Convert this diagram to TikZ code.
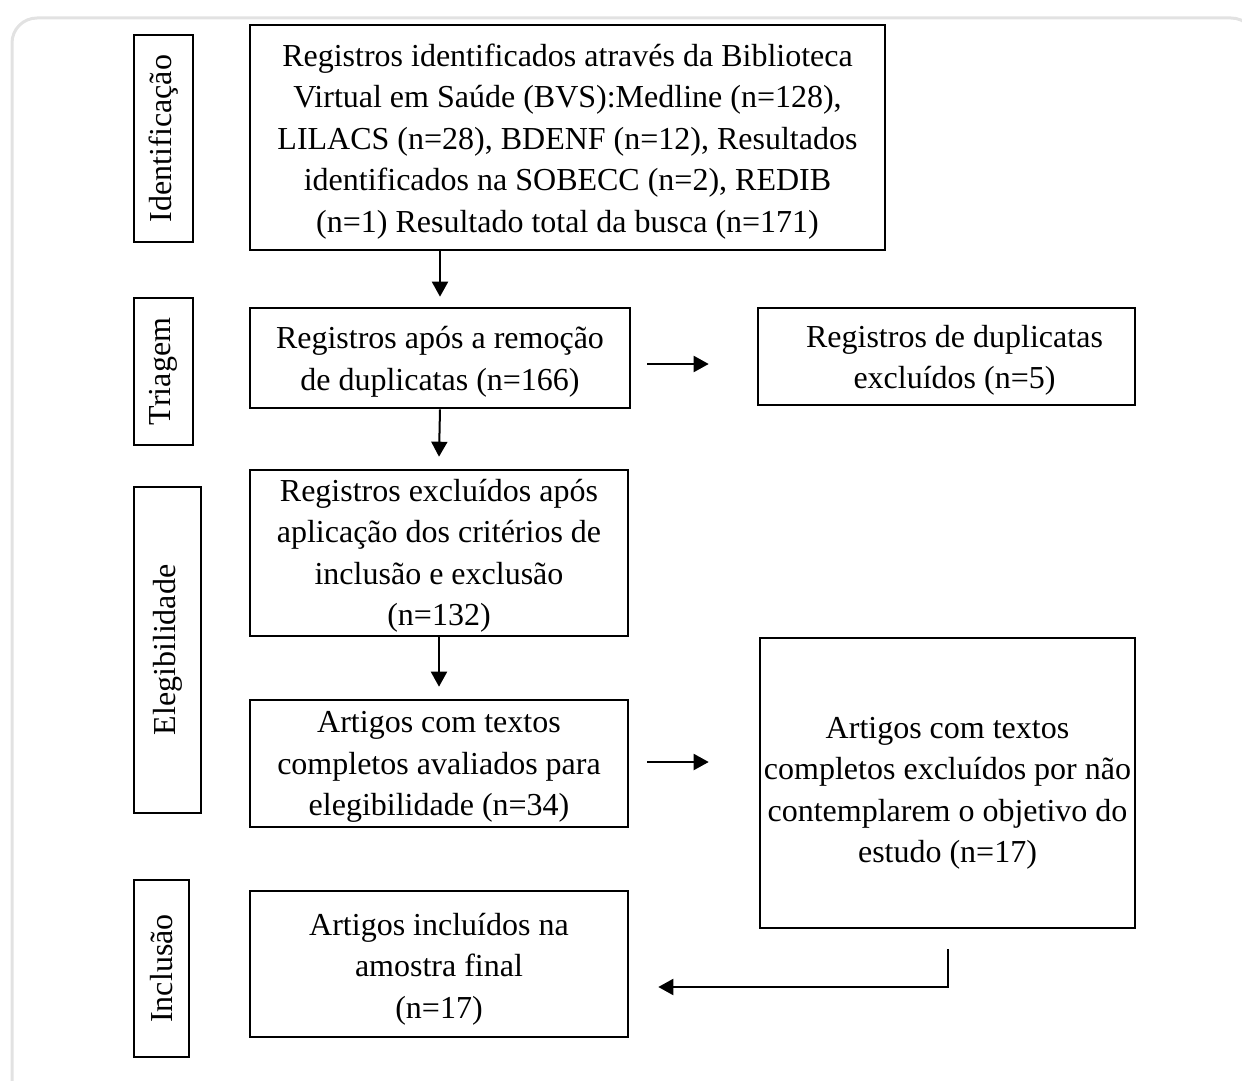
\documentclass[tikz,border=0pt]{standalone}
\usepackage{fontspec}
\setmainfont{Liberation Serif}
\usetikzlibrary{arrows.meta}
\definecolor{cardgray}{HTML}{E2E2E2}
\newcommand{\toplift}[1]{\rule{0pt}{#1}}
\begin{document}
\begin{tikzpicture}[x=0.5pt,y=-0.5pt,
  every node/.style={font=\fontsize{16}{20.75}\selectfont},
  box/.style={draw, line width=1.3pt, align=center, inner sep=0pt},
  phase/.style={draw, line width=1.3pt, rotate=90, inner sep=0pt},
  arr/.style={line width=1pt, -{Triangle[length=7.5pt,width=8pt]}}]
\useasboundingbox (0,0) rectangle (1242,1081);
\begin{scope}
\clip (0,0) rectangle (1242,1081);
\draw[cardgray, line width=1.5pt, rounded corners=12.5pt] (12,18) rectangle (1256,1110);
\end{scope}

% phase labels
\node[phase, minimum width=103.5pt, minimum height=29.5pt] (p1) at (163.5,138.5) {Identificação};
\node[phase, minimum width=73.5pt, minimum height=29.5pt] (p2) at (163.5,371.5) {Triagem};
\node[phase, minimum width=163pt, minimum height=33.5pt] (p3) at (167.5,650) {Elegibilidade};
\node[phase, minimum width=88.5pt, minimum height=27.5pt] (p4) at (161.5,968.5) {Inclusão};

% boxes
\node[box, minimum width=317.5pt, minimum height=112.5pt] (b1) at (567.5,137.5)
 {\toplift{15pt}Registros identificados através da Biblioteca\\Virtual em Saúde (BVS):Medline (n=128),\\LILACS (n=28), BDENF (n=12), Resultados\\identificados na SOBECC (n=2), REDIB\\(n=1) Resultado total da busca (n=171)};
\node[box, minimum width=190pt, minimum height=50pt] (b2) at (440,358)
 {\toplift{15pt}Registros após a remoção\\de duplicatas (n=166)};
\node[box, minimum width=188.5pt, minimum height=48.5pt] (b3) at (946.5,356.5)
 {\toplift{15pt}\hspace*{8pt}Registros de duplicatas\\\hspace*{8pt}excluídos (n=5)};
\node[box, minimum width=189pt, minimum height=83pt] (b4) at (439,553)
 {\toplift{14pt}Registros excluídos após\\aplicação dos critérios de\\inclusão e exclusão\\(n=132)};
\node[box, minimum width=189pt, minimum height=63.5pt] (b5) at (439,763.5)
 {\toplift{14pt}Artigos com textos\\completos avaliados para\\elegibilidade (n=34)};
\node[box, minimum width=187.5pt, minimum height=145pt] (b6) at (947.5,783)
 {\toplift{21pt}Artigos com textos\\completos excluídos por não\\contemplarem o objetivo do\\estudo (n=17)};
\node[box, minimum width=189pt, minimum height=73pt] (b7) at (439,964)
 {\toplift{16pt}Artigos incluídos na\\amostra final\\(n=17)};

% connectors
\draw[arr] (b1.south -| b2.north) -- ([yshift=5pt]b2.north);
\draw[arr] (b2.south) -- ([yshift=6pt]b4.north);
\draw[arr] (b4.south) -- ([yshift=6pt]b5.north);
\coordinate (a4s) at ([xshift=8pt,yshift=-3pt]b2.east);
\coordinate (a4e) at ([xshift=-24pt]b3.west);
\draw[arr] (a4s) -- (a4e |- a4s);
\coordinate (a5s) at ([xshift=9pt,yshift=0.75pt]b5.east);
\draw[arr] (a5s) -- (a4e |- a5s);
\coordinate (a6s) at ([yshift=-10pt]b6.south);
\draw[arr] (a6s) |- ([xshift=14.5pt,yshift=-11.5pt]b7.east);
\end{tikzpicture}
\end{document}
